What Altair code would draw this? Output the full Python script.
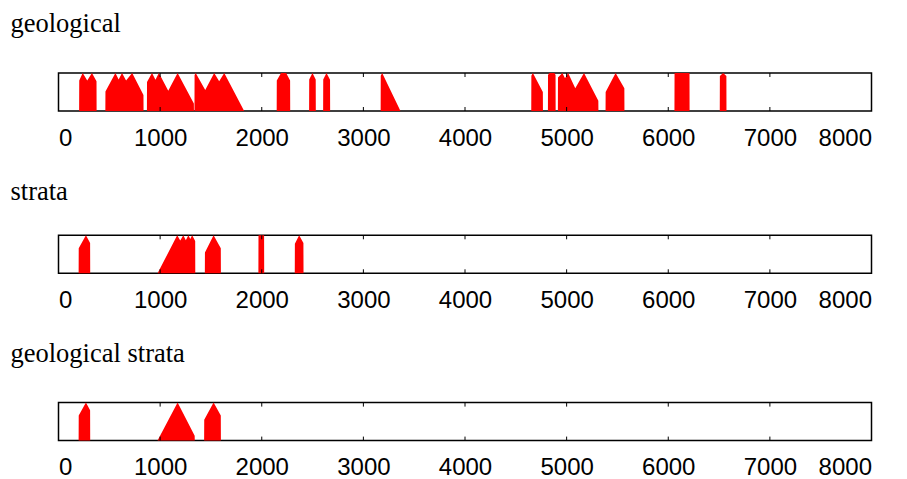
import altair as alt
import pandas as pd

titles = ["geological", "strata", "geological strata"]

# outline vertices (token offset, relative height)
x1 = [203, 204, 238, 283, 329, 374, 375,
      461, 462, 560, 592, 625, 665, 725, 836, 837,
      870, 871, 920, 954, 988, 1080, 1172, 1332, 1333,
      1338, 1339, 1350, 1444, 1532, 1581, 1631, 1827,
      2147, 2148, 2190, 2240, 2279, 2280,
      2466, 2467, 2499, 2531, 2532,
      2604, 2605, 2637, 2672, 2673,
      3170, 3171, 3185, 3365,
      4652, 4653, 4668, 4766, 4767,
      4816, 4817, 4830, 4880, 4891, 4892,
      4914, 4915, 4958, 4984, 5015, 5085, 5171, 5312, 5313,
      5383, 5384, 5482, 5568, 5569,
      6061, 6062, 6209, 6210,
      6507, 6508, 6540, 6572, 6573]
y1 = [0, 0.80, 1, 0.80, 1, 0.78, 0,
      0, 0.51, 1, 0.83, 1, 0.80, 1, 0.42, 0,
      0, 0.76, 1, 0.82, 1, 0.53, 1, 0.2, 0,
      0, 0.95, 1, 0.55, 1, 0.78, 1, 0,
      0, 0.80, 1, 1, 0.80, 0,
      0, 0.83, 1, 0.83, 0,
      0, 0.83, 1, 0.82, 0,
      0, 0.93, 1, 0,
      0, 0.93, 1, 0.50, 0,
      0, 0.95, 1, 1, 0.95, 0,
      0, 0.88, 1, 0.86, 1, 0.6, 1, 0.27, 0,
      0, 0.50, 1, 0.60, 0,
      0, 1, 1, 0,
      0, 0.92, 1, 0.92, 0]

x2 = [198, 199, 270, 311, 312,
      975, 1168, 1198, 1228, 1253, 1278, 1297, 1315, 1345, 1346,
      1440, 1441, 1526, 1597, 1598,
      1967, 1968, 2023, 2024,
      2325, 2326, 2368, 2410, 2411]
y2 = [0, 0.66, 1, 0.80, 0,
      0, 1, 0.86, 1, 0.87, 1, 0.90, 1, 0.85, 0,
      0, 0.55, 1, 0.66, 0,
      0, 1, 1, 0,
      0, 0.78, 1, 0.80, 0]

x3 = [198, 199, 270, 311, 312,
      975, 1172, 1340, 1341,
      1433, 1434, 1526, 1597, 1598]
y3 = [0, 0.66, 1, 0.80, 0,
      0, 1, 0.13, 0,
      0, 0.55, 1, 0.66, 0]

tick_values = [0, 1000, 2000, 3000, 4000, 5000, 6000, 7000, 8000]

W = 813
H = 38
title_dy = [-41.4, -35.5, -40.5]


def panel(title, xs, ys, dy):
    df = pd.DataFrame({"pos": xs, "val": ys})
    xscale = alt.Scale(domain=[0, 8000], nice=False, zero=False)
    area = alt.Chart(df).mark_area(color="#ff0000", opacity=1, interpolate="linear").encode(
        x=alt.X("pos:Q", scale=xscale,
                axis=alt.Axis(values=tick_values, format="d", ticks=False, tickSize=0,
                              grid=False, domain=False, labelFont="Liberation Sans",
                              labelFontSize=24, labelColor="black", labelPadding=15,
                              title=None)),
        y=alt.Y("val:Q", scale=alt.Scale(domain=[0, 1]), axis=None),
    )
    tdf = pd.DataFrame({"pos": tick_values})
    top = alt.Chart(tdf).mark_rule(color="black", strokeWidth=1).encode(
        x="pos:Q", y=alt.value(0), y2=alt.value(4))
    bot = alt.Chart(tdf).mark_rule(color="black", strokeWidth=1).encode(
        x="pos:Q", y=alt.value(H - 4), y2=alt.value(H))
    ttl = alt.Chart(pd.DataFrame({"t": [title]})).mark_text(
        align="left", baseline="alphabetic", font="Liberation Serif",
        fontSize=26.5, color="black").encode(
        x=alt.value(-48), y=alt.value(dy), text="t:N")
    return alt.layer(area, top, bot, ttl).properties(width=W, height=H)


chart = alt.vconcat(
    panel(titles[0], x1, y1, title_dy[0]),
    panel(titles[1], x2, y2, title_dy[1]),
    panel(titles[2], x3, y3, title_dy[2]),
    spacing=26.3,
).properties(
    padding={"left": 1.5, "top": 1, "right": 0, "bottom": 0},
    background="white"
).configure_view(
    stroke="black", strokeWidth=1.5
)

chart.save("out.html", embed_options={"renderer": "svg", "actions": False})
